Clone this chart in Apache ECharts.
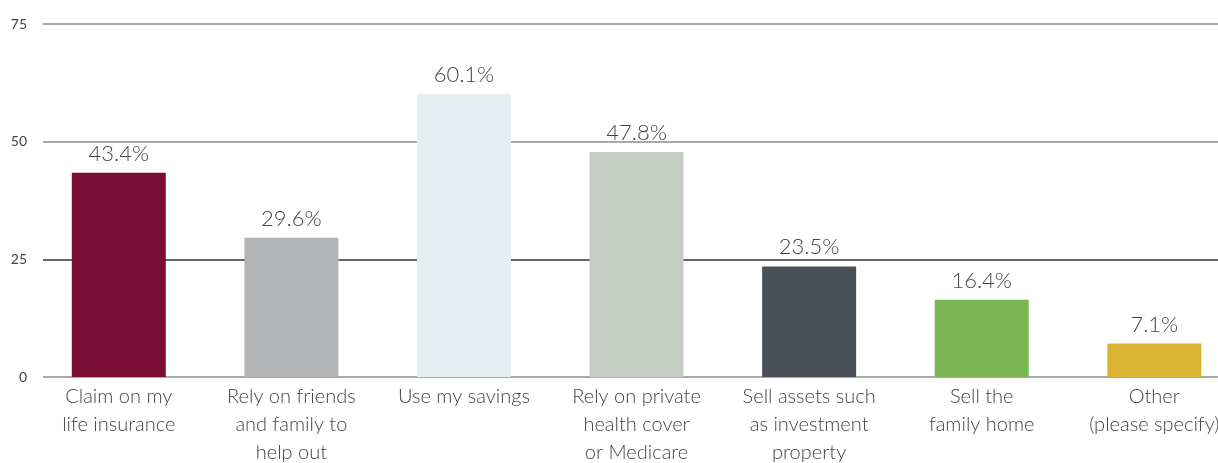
<!DOCTYPE html>
<html>
<head>
    <meta charset="utf-8" />
    <script type="text/javascript" src="https://cdn.jsdelivr.net/npm/echarts@6/dist/echarts.min.js"></script>
    <title></title>
    <style>
        html, body { margin: 0; padding: 0; background: #fff; }
        #main { width: 1218px; height: 463px; }
    </style>
</head>
<body>
    <div id="main"></div>
    <script type="text/javascript">
    // 数据
    var categories = [
        'Claim on my\nlife insurance',
        'Rely on friends\nand family to\nhelp out',
        'Use my savings',
        'Rely on private\nhealth cover\nor Medicare',
        'Sell assets such\nas investment\nproperty',
        'Sell the\nfamily home',
        'Other\n(please specify)'
    ];
    var values = [43.4, 29.6, 60.1, 47.8, 23.5, 16.4, 7.1];
    var barColors = ['#7a0e35', '#b3b4b6', '#e3eef0', '#c3cdc2', '#4b4f57', '#7ab754', '#dbb431'];
    var yTicks = [0, 25, 50, 75];

    var myChart = echarts.init(document.getElementById('main'));
    var font = 'Lato, "Open Sans", sans-serif';

    var option = {
        animation: false,
        grid: [
            // 网格线用
            { left: 43, right: 0, top: 24, bottom: 86, outerBoundsMode: 'none', containLabel: false },
            // 柱子用
            { left: 32.5, right: -22.6, top: 24, bottom: 86, outerBoundsMode: 'none', containLabel: false }
        ],
        xAxis: [{
            gridIndex: 0,
            type: 'category',
            data: categories,
            show: false
        }, {
            gridIndex: 1,
            type: 'category',
            data: categories,
            axisLine: { show: false },
            axisTick: { show: false },
            axisLabel: {
                interval: 0,
                margin: 6,
                fontFamily: font,
                fontWeight: 300,
                fontSize: 20,
                lineHeight: 28,
                color: '#444'
            }
        }],
        yAxis: [{
            gridIndex: 0,
            type: 'value',
            min: yTicks[0],
            max: yTicks[yTicks.length - 1],
            interval: 25,
            axisLine: { show: false },
            axisTick: { show: false },
            axisLabel: {
                margin: 16,
                fontFamily: font,
                fontSize: 14,
                color: '#444'
            },
            splitLine: {
                show: true,
                lineStyle: {
                    color: ['#8c8c8c', '#333333', '#8c8c8c', '#8c8c8c'],
                    width: 1.5
                }
            }
        }, {
            gridIndex: 1,
            type: 'value',
            min: yTicks[0],
            max: yTicks[yTicks.length - 1],
            interval: 25,
            show: false,
            splitLine: { show: false }
        }],
        series: [{
            type: 'bar',
            xAxisIndex: 1,
            yAxisIndex: 1,
            barWidth: 94,
            data: values.map(function(v, i) {
                return { value: v, itemStyle: { color: barColors[i] } };
            }),
            label: {
                show: true,
                position: 'top',
                distance: 8,
                fontFamily: font,
                fontWeight: 300,
                fontSize: 22,
                color: '#444',
                formatter: function(p) { return p.value.toFixed(1) + '%'; }
            }
        }]
    };
    myChart.setOption(option);
    </script>
</body>
</html>
